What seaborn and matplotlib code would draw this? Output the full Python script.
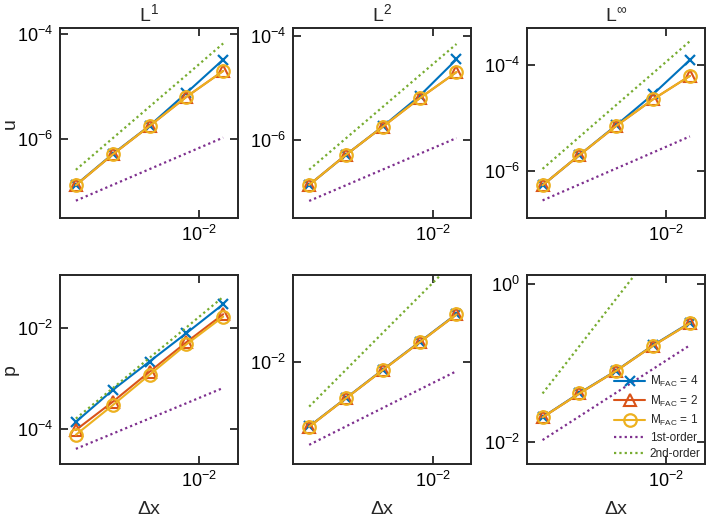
import matplotlib
matplotlib.use("Agg")
import matplotlib.pyplot as plt
import seaborn as sns
import numpy as np

# ---------------- data ----------------
dx = [1/1024, 1/512, 1/256, 1/128, 1/64]

u_L1_m4 = [1.34e-7, 5.2e-7, 1.80e-6, 7.6e-6, 3.3e-5]
u_L1_m2 = [1.32e-7, 5.1e-7, 1.78e-6, 6.4e-6, 2.0e-5]
u_L1_m1 = [1.32e-7, 5.1e-7, 1.78e-6, 6.4e-6, 2.0e-5]
u_L1_o1 = [6.7e-8, 1.34e-7, 2.68e-7, 5.36e-7, 1.07e-6]
u_L1_o2 = [2.6e-7, 1.04e-6, 4.16e-6, 1.66e-5, 6.7e-5]

u_L2_m4 = [1.38e-7, 5.2e-7, 1.82e-6, 7.0e-6, 3.5e-5]
u_L2_m2 = [1.38e-7, 5.2e-7, 1.80e-6, 6.3e-6, 2.0e-5]
u_L2_m1 = [1.38e-7, 5.2e-7, 1.80e-6, 6.3e-6, 2.0e-5]
u_L2_o1 = [6.8e-8, 1.36e-7, 2.72e-7, 5.44e-7, 1.09e-6]
u_L2_o2 = [2.7e-7, 1.08e-6, 4.32e-6, 1.73e-5, 6.9e-5]

u_Li_m4 = [5.4e-7, 2.0e-6, 7.3e-6, 2.8e-5, 1.24e-4]
u_Li_m2 = [5.4e-7, 2.0e-6, 7.1e-6, 2.25e-5, 6.2e-5]
u_Li_m1 = [5.4e-7, 2.0e-6, 7.1e-6, 2.25e-5, 6.2e-5]
u_Li_o1 = [2.8e-7, 5.6e-7, 1.12e-6, 2.24e-6, 4.5e-6]
u_Li_o2 = [1.1e-6, 4.4e-6, 1.76e-5, 7.0e-5, 2.8e-4]

p_L1_m4 = [1.4e-4, 6.0e-4, 2.2e-3, 8.0e-3, 3.0e-2]
p_L1_m2 = [9.7e-5, 3.5e-4, 1.38e-3, 5.3e-3, 1.9e-2]
p_L1_m1 = [7.8e-5, 3.0e-4, 1.2e-3, 4.8e-3, 1.7e-2]
p_L1_o1 = [4.1e-5, 8.2e-5, 1.64e-4, 3.28e-4, 6.6e-4]
p_L1_o2 = [1.63e-4, 6.5e-4, 2.6e-3, 1.04e-2, 4.2e-2]

p_L2_m4 = [8.8e-4, 2.55e-3, 7.4e-3, 2.1e-2, 6.0e-2]
p_L2_m2 = [8.7e-4, 2.53e-3, 7.3e-3, 2.07e-2, 5.9e-2]
p_L2_m1 = [8.7e-4, 2.53e-3, 7.3e-3, 2.07e-2, 5.9e-2]
p_L2_o1 = [4.4e-4, 8.8e-4, 1.76e-3, 3.52e-3, 7.0e-3]
p_L2_o2 = [1.85e-3, 7.4e-3, 2.96e-2, 0.118, 0.47]

p_Li_m4 = [2.05e-2, 4.15e-2, 8.0e-2, 0.168, 0.325]
p_Li_m2 = [2.04e-2, 4.1e-2, 7.95e-2, 0.166, 0.32]
p_Li_m1 = [2.04e-2, 4.1e-2, 7.95e-2, 0.166, 0.32]
p_Li_o1 = [1.05e-2, 2.1e-2, 4.2e-2, 8.4e-2, 0.168]
p_Li_o2 = [4.1e-2, 0.164, 0.656, 2.62, 10.5]

col_titles = [r"L$^{1}$", r"L$^{2}$", r"L$^{\infty}$"]
row_labels = ["u", "p"]
legend_labels = [r"M$_{\mathrm{FAC}}$ = 4", r"M$_{\mathrm{FAC}}$ = 2",
                 r"M$_{\mathrm{FAC}}$ = 1", "1st-order", "2nd-order"]

# log10 limits (x shared, y per panel)
xlim_log = (-3.14, -1.685)
ylims_log = [[(-7.51, -3.885), (-7.50, -3.86), (-6.89, -3.31)],
             [(-4.693, -0.944), (-3.674, -0.586), (-2.287, 0.118)]]
yticks = [[[1e-6, 1e-4], [1e-6, 1e-4], [1e-6, 1e-4]],
          [[1e-4, 1e-2], [1e-2], [1e-2, 1e0]]]

panels = [[(u_L1_m4, u_L1_m2, u_L1_m1, u_L1_o1, u_L1_o2),
           (u_L2_m4, u_L2_m2, u_L2_m1, u_L2_o1, u_L2_o2),
           (u_Li_m4, u_Li_m2, u_Li_m1, u_Li_o1, u_Li_o2)],
          [(p_L1_m4, p_L1_m2, p_L1_m1, p_L1_o1, p_L1_o2),
           (p_L2_m4, p_L2_m2, p_L2_m1, p_L2_o1, p_L2_o2),
           (p_Li_m4, p_Li_m2, p_Li_m1, p_Li_o1, p_Li_o2)]]

# ---------------- style ----------------
sns.set_style("ticks")
plt.rcParams["font.family"] = ["Liberation Sans", "DejaVu Sans"]
plt.rcParams["mathtext.fontset"] = "custom"
plt.rcParams["mathtext.rm"] = "Liberation Sans"
plt.rcParams["mathtext.it"] = "Liberation Sans:italic"
plt.rcParams["mathtext.bf"] = "Liberation Sans:bold"
plt.rcParams["mathtext.sf"] = "Liberation Sans"

BLUE = "#0072BD"
RED = "#D95319"
YEL = "#EDB120"
PUR = "#7E2F8E"
GRN = "#77AC30"
DOT = (0, (1.0, 1.4))

W, H = 709, 518
fig = plt.figure(figsize=(W / 100, H / 100), dpi=100)

lefts = [60, 293.3, 526.7]
width = 178
tops = [28.3, 275]
heights = [190, 189.3]

for r in range(2):
    for c in range(3):
        l = lefts[c]
        t = tops[r]
        h = heights[r]
        ax = fig.add_axes([l / W, 1 - (t + h) / H, width / W, h / H])
        ax.set_xscale("log")
        ax.set_yscale("log")
        m4, m2, m1, o1, o2 = panels[r][c]
        sns.lineplot(x=dx, y=m4, ax=ax, color=BLUE, marker="x", markersize=7.5,
                     markeredgewidth=1.6, markeredgecolor=BLUE, linewidth=1.5,
                     estimator=None, sort=False, label=legend_labels[0])
        sns.lineplot(x=dx, y=m2, ax=ax, color=RED, marker="^", markersize=8.5,
                     markeredgewidth=1.5, markeredgecolor=RED, markerfacecolor="none",
                     linewidth=1.5, estimator=None, sort=False, label=legend_labels[1])
        sns.lineplot(x=dx, y=m1, ax=ax, color=YEL, marker="o", markersize=9,
                     markeredgewidth=1.6, markeredgecolor=YEL, markerfacecolor="none",
                     linewidth=1.5, estimator=None, sort=False, label=legend_labels[2])
        sns.lineplot(x=dx, y=o1, ax=ax, color=PUR, linestyle=DOT, linewidth=1.6,
                     estimator=None, sort=False, label=legend_labels[3])
        sns.lineplot(x=dx, y=o2, ax=ax, color=GRN, linestyle=DOT, linewidth=1.6,
                     estimator=None, sort=False, label=legend_labels[4])
        ax.set_xlim(10 ** xlim_log[0], 10 ** xlim_log[1])
        yl = ylims_log[r][c]
        ax.set_ylim(10 ** yl[0], 10 ** yl[1])
        ax.set_xticks([1e-2])
        ax.set_yticks(yticks[r][c])
        ax.minorticks_off()
        ax.tick_params(which="both", direction="in", top=True, right=True,
                       length=6, width=1.3, labelsize=13, pad=5, colors="#262626")
        ax.tick_params(axis="both", labelcolor="black")
        for s in ax.spines.values():
            s.set_linewidth(1.4)
            s.set_color("#262626")
            s.set_visible(True)
        if r == 0:
            ax.set_title(col_titles[c], fontsize=14, pad=5)
        if c == 0:
            ax.set_ylabel(row_labels[r], fontsize=14)
            ax.yaxis.set_label_coords(-41 / width, 0.5)
        else:
            ax.set_ylabel("")
        if r == 1:
            ax.set_xlabel("Δx", fontsize=14, labelpad=7)
        else:
            ax.set_xlabel("")
        leg = ax.get_legend()
        if leg is not None:
            leg.remove()
        if r == 1 and c == 2:
            handles, labels = ax.get_legend_handles_labels()
            ax.legend(handles, labels, loc="lower right", frameon=False,
                      fontsize=8.5, handlelength=2.6, handletextpad=0.4,
                      labelspacing=0.35, borderaxespad=0.15, borderpad=0.2)

fig.savefig("out.png", dpi=100)
